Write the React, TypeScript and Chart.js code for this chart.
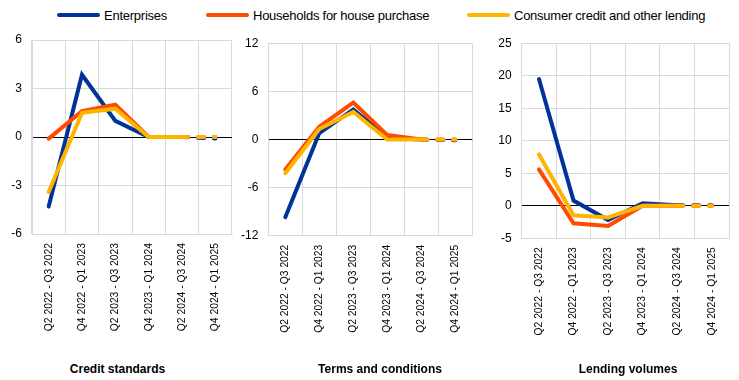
import React, { useEffect, useRef } from "react";
import { Chart, registerables } from "chart.js";

Chart.register(...registerables);

const categories = [
  "Q2 2022 - Q3 2022",
  "Q4 2022 - Q1 2023",
  "Q2 2023 - Q3 2023",
  "Q4 2023 - Q1 2024",
  "Q2 2024 - Q3 2024",
  "Q4 2024 - Q1 2025",
];

const seriesNames = ["Enterprises", "Households for house purchase", "Consumer credit and other lending"];
const seriesColors = ["#003299", "#ff4b00", "#ffb400"];

const panelTitles = ["Credit standards", "Terms and conditions", "Lending volumes"];

const creditEnterprises = [-4.3, 3.85, 1.0, 0.0, 0.0, -0.1];
const creditHouseholds = [-0.1, 1.6, 2.0, 0.0, 0.0, 0.0];
const creditConsumer = [-3.4, 1.5, 1.75, 0.0, 0.0, 0.0];

const termsEnterprises = [-9.7, 0.8, 3.75, 0.2, 0.0, -0.1];
const termsHouseholds = [-3.75, 1.6, 4.6, 0.55, 0.0, 0.0];
const termsConsumer = [-4.2, 1.3, 3.45, 0.0, 0.0, 0.0];

const volumesEnterprises = [19.5, 0.8, -2.2, 0.4, 0.1, 0.1];
const volumesHouseholds = [5.6, -2.7, -3.1, 0.0, 0.0, 0.0];
const volumesConsumer = [7.9, -1.45, -1.8, 0.0, 0.0, 0.0];

const creditAxis = { min: -6, max: 6, step: 3 };
const termsAxis = { min: -12, max: 12, step: 6 };
const volumesAxis = { min: -5, max: 25, step: 5 };

const FONT = "'Liberation Sans', Arial, Helvetica, sans-serif";

type PanelProps = {
  series: number[][];
  axis: { min: number; max: number; step: number };
  left: number;
  width: number;
  height: number;
  yWidth: number;
  padTop: number;
  padRight: number;
  padBottom: number;
};

function Panel(props: PanelProps) {
  const ref = useRef<HTMLCanvasElement | null>(null);
  useEffect(() => {
    if (!ref.current) return;
    const n = props.series.length;
    const chart = new Chart(ref.current, {
      type: "line",
      data: {
        labels: categories,
        datasets: props.series.map((vals, i) => ({
          label: seriesNames[i],
          data: vals,
          borderColor: seriesColors[i],
          backgroundColor: seriesColors[i],
          borderWidth: 4,
          pointRadius: 0,
          pointHoverRadius: 0,
          tension: 0,
          fill: false,
          borderCapStyle: "round" as const,
          order: n - i,
          segment: {
            borderDash: (ctx: any) => (ctx.p1DataIndex === categories.length - 1 ? [6, 10] : undefined),
          },
        })),
      },
      options: {
        responsive: false,
        animation: false,
        events: [],
        layout: {
          padding: { top: props.padTop, right: props.padRight, bottom: props.padBottom, left: 0 },
        },
        plugins: {
          legend: { display: false },
          title: { display: false },
          tooltip: { enabled: false },
        },
        scales: {
          x: {
            type: "category",
            offset: true,
            grid: { offset: true, color: "#d9d9d9", lineWidth: 1, drawTicks: false },
            border: { color: "#d9d9d9" },
            ticks: {
              autoSkip: false,
              minRotation: 90,
              maxRotation: 90,
              padding: 9,
              color: "#000",
              font: { family: FONT, size: 10.3 },
            },
            afterFit: (scale: any) => {
              scale.height = 120;
            },
          },
          y: {
            type: "linear",
            min: props.axis.min,
            max: props.axis.max,
            grid: {
              color: (ctx: any) => (ctx.tick && ctx.tick.value === 0 ? "#000" : "#d9d9d9"),
              lineWidth: 1,
              drawTicks: false,
            },
            border: { color: "#d9d9d9" },
            ticks: {
              stepSize: props.axis.step,
              padding: 10,
              color: "#000",
              font: { family: FONT, size: 12 },
            },
            afterFit: (scale: any) => {
              scale.width = props.yWidth;
            },
          },
        },
      },
    });
    return () => chart.destroy();
  }, []);
  return (
    <canvas
      ref={ref}
      width={props.width}
      height={props.height}
      style={{ position: "absolute", left: props.left, top: 20, width: props.width, height: props.height }}
    />
  );
}

const legendLefts = [57, 206, 467];
const titleCenters = [117.5, 380, 628];

export default function App() {
  return (
    <div
      style={{
        position: "fixed",
        left: 0,
        top: 0,
        width: 739,
        height: 380,
        background: "#fff",
        overflow: "hidden",
        fontFamily: FONT,
      }}
    >
      {seriesNames.map((name, i) => (
        <div
          key={name}
          style={{
            position: "absolute",
            left: legendLefts[i],
            top: 5,
            height: 20,
            display: "flex",
            alignItems: "center",
            whiteSpace: "nowrap",
          }}
        >
          <div style={{ width: 43, height: 4, borderRadius: 2, background: seriesColors[i], marginRight: 4 }} />
          <span style={{ fontSize: 13, letterSpacing: -0.25, color: "#000" }}>{name}</span>
        </div>
      ))}
      <Panel
        series={[creditEnterprises, creditHouseholds, creditConsumer]}
        axis={creditAxis}
        left={0}
        width={245}
        height={334}
        yWidth={32}
        padTop={20}
        padRight={13}
        padBottom={0}
      />
      <Panel
        series={[termsEnterprises, termsHouseholds, termsConsumer]}
        axis={termsAxis}
        left={228}
        width={262}
        height={336}
        yWidth={40.3}
        padTop={23.3}
        padRight={17.7}
        padBottom={0.3}
      />
      <Panel
        series={[volumesEnterprises, volumesHouseholds, volumesConsumer]}
        axis={volumesAxis}
        left={490}
        width={249}
        height={339}
        yWidth={31.7}
        padTop={23.3}
        padRight={10}
        padBottom={0.7}
      />
      {panelTitles.map((t, i) => (
        <div
          key={t}
          style={{
            position: "absolute",
            left: titleCenters[i] - 100,
            width: 200,
            top: 360,
            height: 18,
            lineHeight: "18px",
            textAlign: "center",
            fontWeight: "bold",
            fontSize: 12,
            color: "#000",
          }}
        >
          {t}
        </div>
      ))}
    </div>
  );
}
